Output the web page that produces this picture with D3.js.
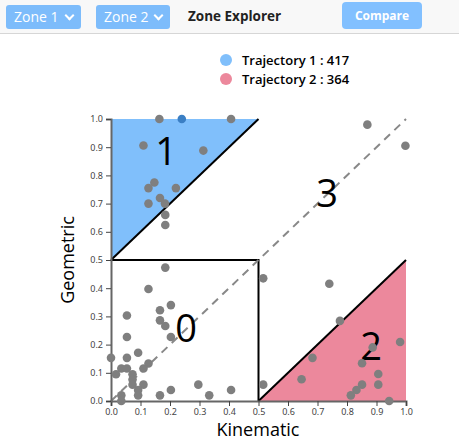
<!DOCTYPE html>
<html>
<head>
<meta charset="utf-8">
<title>Zone Explorer</title>
<style>
  body { margin: 0; font-family: "Open Sans", "Noto Sans", sans-serif; background: #fff; }
  .top { position: absolute; left: 0; top: 0; width: 459px; height: 33px; background: #f8f8f8; border-bottom: 1px solid #d6d6d6; }
  .sel { position: absolute; top: 5px; height: 24px; background: #7dbcfb; color: #fff; border-radius: 3px;
         font-size: 14px; line-height: 24px; padding-left: 8px; box-sizing: border-box; }
  .sel i { position: absolute; right: 8px; top: 7px; width: 5px; height: 5px; border-right: 2px solid #fff;
           border-bottom: 2px solid #fff; transform: rotate(45deg); }
  .title { position: absolute; left: 188px; top: 6px; font-size: 13.5px; font-weight: 700; color: #222; line-height: 20px; }
  .btn { position: absolute; left: 342px; top: 2px; width: 80px; height: 27px; background: #82c0ff; color: #fff; border-radius: 4px;
         font-size: 12px; font-weight: 700; text-align: center; line-height: 27px; }
  svg { position: absolute; left: 0; top: 0; }
</style>
</head>
<body>
<script src="https://d3js.org/d3.v7.min.js"></script>
<div class="top">
  <div class="sel" style="left:6px;width:75px">Zone 1<i></i></div>
  <div class="sel" style="left:96px;width:74px">Zone 2<i></i></div>
  <div class="title">Zone Explorer</div>
  <div class="btn">Compare</div>
</div>
<svg id="chart" width="459" height="447"></svg>
<script>
// legend
var legendNames = ["Trajectory 1 : 417", "Trajectory 2 : 364"];
var legendColors = ["#80bffb", "#ec889c"];

// zone labels [x, y, text]
var zoneLabels = [[0.187, 0.89, "1"], [0.733, 0.742, "3"], [0.255, 0.262, "0"], [0.882, 0.198, "2"]];

// points (kinematic, geometric)
var kin = [0.164, 0.407, 0.11, 0.313, 0.147, 0.127, 0.22, 0.166, 0.127, 0.183, 0.184, 0.184,
  0.184, 0.127, 0.166, 0.203, 0.054, 0.166, 0.184, 0.203, 0.054, 0.0, 0.054, 0.092, 0.127,
  0.035, 0.054, 0.11, 0.017, 0.073, 0.073, 0.073, 0.11, 0.092, 0.092, 0.035, 0.035, 0.166,
  0.203, 0.296, 0.333, 0.407,
  0.516, 0.74, 0.776, 0.98, 0.887, 0.683, 0.851, 0.906, 0.646, 0.516, 0.851, 0.906, 0.832,
  0.813, 0.943,
  0.869, 0.998];
var geo = [1.0, 1.0, 0.906, 0.888, 0.775, 0.755, 0.755, 0.72, 0.70, 0.70, 0.66, 0.624,
  0.473, 0.397, 0.322, 0.34, 0.303, 0.286, 0.266, 0.227, 0.227, 0.153, 0.153, 0.171, 0.133,
  0.115, 0.115, 0.115, 0.095, 0.095, 0.076, 0.058, 0.058, 0.039, 0.02, 0.02, 0.0, 0.02,
  0.039, 0.058, 0.02, 0.039,
  0.435, 0.416, 0.284, 0.209, 0.19, 0.153, 0.134, 0.096, 0.077, 0.058, 0.058, 0.058, 0.039,
  0.02, 0.0,
  0.98, 0.905];
var selected = [0.24, 1.0];

var svg = d3.select("#chart");
var x = d3.scaleLinear().domain([0, 1]).range([111, 406]);
var y = d3.scaleLinear().domain([0, 1]).range([401, 119]);
var line = d3.line().x(function(d) { return x(d[0]); }).y(function(d) { return y(d[1]); });

// zone 1 triangle
svg.append("path").attr("d", line([[0, 0.5], [0, 1], [0.5, 1]]) + "Z").attr("fill", "#80bffb");
// zone 2 triangle
svg.append("path").attr("d", line([[0.5, 0], [1, 0], [1, 0.5]]) + "Z").attr("fill", "#ec889c");
// diagonals
svg.append("path").attr("d", line([[0, 0.5], [0.5, 1]])).attr("stroke", "#000").attr("stroke-width", 2).attr("fill", "none");
svg.append("path").attr("d", line([[0.5, 0], [1, 0.5]])).attr("stroke", "#000").attr("stroke-width", 2).attr("fill", "none");
// zone 0 square
svg.append("path").attr("d", line([[0, 0.5], [0.5, 0.5], [0.5, 0]])).attr("stroke", "#000").attr("stroke-width", 2).attr("fill", "none");
// dashed identity line
svg.append("path").attr("d", line([[0, 0], [1, 1]])).attr("stroke", "#888").attr("stroke-width", 2)
  .attr("stroke-dasharray", "8,6").attr("fill", "none");

// axes
var ticks = d3.range(0, 11).map(function(i) { return i / 10; });
var xa = svg.append("g").attr("transform", "translate(0,401)")
  .call(d3.axisBottom(x).tickValues(ticks).tickFormat(d3.format(".1f")).tickSize(5));
var ya = svg.append("g").attr("transform", "translate(111,0)")
  .call(d3.axisLeft(y).tickValues(ticks).tickFormat(d3.format(".1f")).tickSize(5));
[xa, ya].forEach(function(a) {
  a.select(".domain").attr("stroke", "#666").attr("stroke-width", 2);
  a.selectAll(".tick line").attr("stroke", "#444");
  a.selectAll(".tick text").attr("fill", "#444").style("font-size", "9px").style("font-family", "Noto Sans, sans-serif");
});

// zone labels
svg.selectAll(".zl").data(zoneLabels).enter().append("text")
  .attr("x", function(d) { return x(d[0]); }).attr("y", function(d) { return y(d[1]); })
  .attr("text-anchor", "middle").attr("dominant-baseline", "central")
  .style("font-size", "38px").style("font-family", "Open Sans, sans-serif").text(function(d) { return d[2]; });

// points
svg.selectAll(".pt").data(d3.range(kin.length)).enter().append("circle")
  .attr("cx", function(i) { return x(kin[i]); }).attr("cy", function(i) { return y(geo[i]); })
  .attr("r", 4.3).attr("fill", "#7f7f7f");
svg.append("circle").attr("cx", x(selected[0])).attr("cy", y(selected[1])).attr("r", 4.3).attr("fill", "#3b7fc4");

// axis titles
svg.append("text").attr("x", 258).attr("y", 436).attr("text-anchor", "middle")
  .style("font-size", "18px").style("font-family", "Open Sans, sans-serif").text("Kinematic");
svg.append("text").attr("transform", "translate(74,260) rotate(-90)").attr("text-anchor", "middle")
  .style("font-size", "18px").style("font-family", "Open Sans, sans-serif").text("Geometric");

// legend
var lg = svg.selectAll(".lg").data(legendNames).enter().append("g")
  .attr("transform", function(d, i) { return "translate(226," + (60 + i * 19) + ")"; });
lg.append("circle").attr("r", 6).attr("fill", function(d, i) { return legendColors[i]; });
lg.append("text").attr("x", 16).attr("dy", "0.35em").style("font-size", "13px").style("font-weight", 600)
  .style("font-family", "Open Sans, sans-serif").text(function(d) { return d; });
</script>
</body>
</html>
